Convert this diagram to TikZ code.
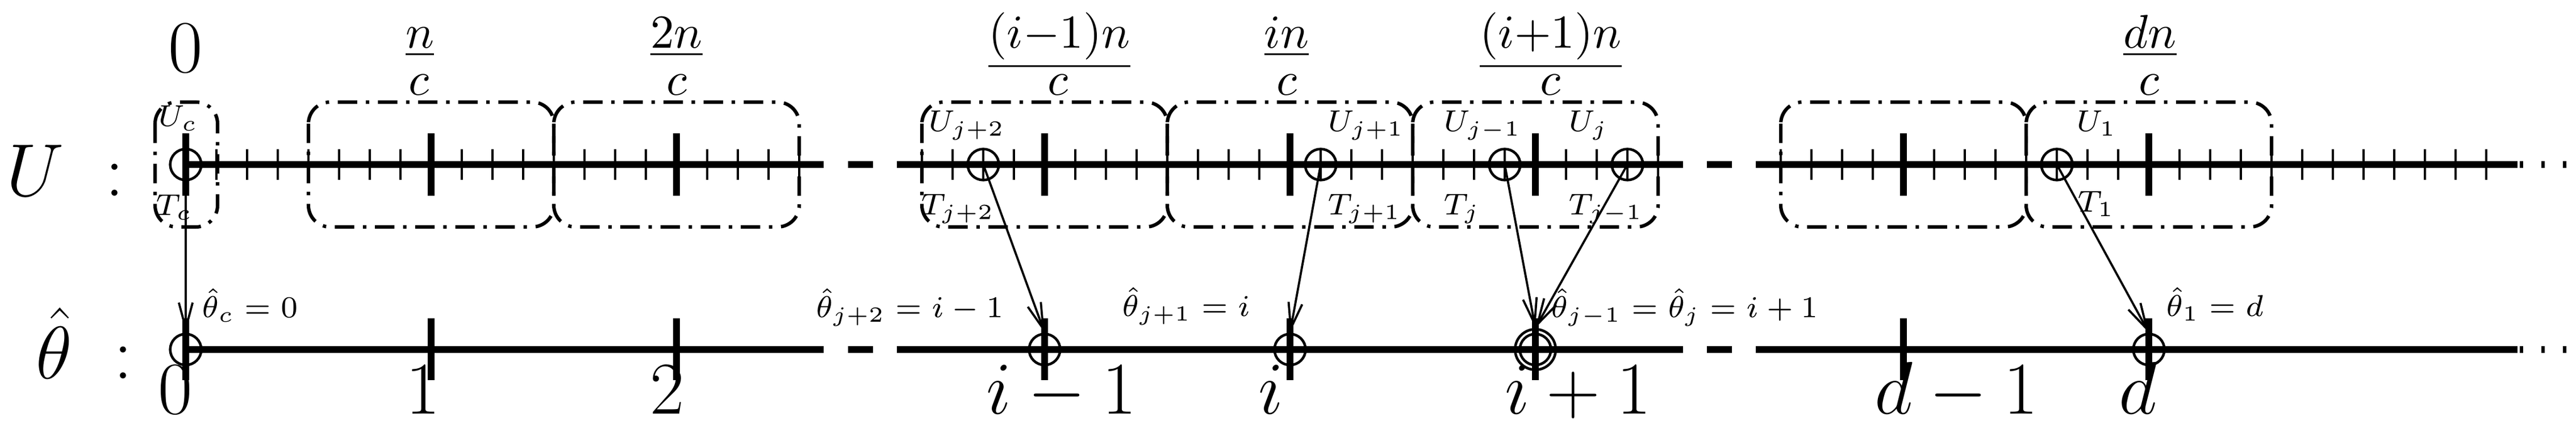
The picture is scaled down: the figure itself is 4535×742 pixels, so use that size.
\documentclass[tikz,border=0pt]{standalone}
\usetikzlibrary{arrows.meta}
\begin{document}
\begin{tikzpicture}[x=0.0046296cm,y=-0.0046296cm,
 axis/.style={line width=1.6pt},
 major/.style={line width=1.6pt},
 minor/.style={line width=0.5pt},
 grp/.style={line width=0.8pt, rounded corners=5pt, dash pattern=on 4.5pt off 2pt on 0.8pt off 2pt},
 circ/.style={circle,draw,line width=0.6pt,minimum size=7.2pt,inner sep=0pt},
 arr/.style={line width=0.5pt,-{Straight Barb[length=6pt,width=3.2pt]}},
 small/.style={font=\fontsize{7}{8}\selectfont, inner sep=0pt, anchor=base west},
 big/.style={font=\fontsize{17.5}{20}\selectfont, inner sep=0pt, anchor=base west},
 huge/.style={font=\fontsize{19}{22}\selectfont, inner sep=0pt, anchor=base west},
 num/.style={font=\fontsize{11}{13}\selectfont, inner sep=0pt, anchor=base}]
\useasboundingbox (0,0) rectangle (4535,742);
% axes
\foreach \y in {290,616}{
  \draw[axis] (327,\y) -- (1450,\y);
  \draw[axis] (1493,\y) -- (1537,\y);
  \draw[axis] (1579,\y) -- (2963,\y);
  \draw[axis] (3005,\y) -- (3049,\y);
  \draw[axis] (3091,\y) -- (4432,\y);
  \foreach \d in {4436,4474,4512} \draw[axis] (\d,\y) -- (\d+6,\y);
}
% minor ticks
\foreach \k in {1,...,20} \draw[minor] ({327+54*\k},263) -- ({327+54*\k},317);
\foreach \k in {24,...,48} \draw[minor] ({327+54*\k},263) -- ({327+54*\k},317);
\foreach \k in {52,...,75} \draw[minor] ({327+54*\k},263) -- ({327+54*\k},317);
% major ticks
\foreach \x in {327,759,1191,1839,2271,2703,3351,3783}{
  \draw[major] (\x,235) -- (\x,345);
  \draw[major] (\x,561) -- (\x,670);
}
% groups
\draw[grp] (273,180) rectangle (383,400);
\foreach \a/\b in {543/975,975/1407,1623/2055,2055/2487,2487/2919,3135/3567,3567/3999}
  \draw[grp] (\a,180) rectangle (\b,400);
% circles
\node[circ] (uc) at (327,290) {};
\node[circ] (uj2) at (1731,290) {};
\node[circ] (uj1) at (2325,290) {};
\node[circ] (ujm) at (2649,290) {};
\node[circ] (uj) at (2865,290) {};
\node[circ] (u1) at (3621,290) {};
\node[circ] (t0) at (327,616) {};
\node[circ] (t1) at (1839,616) {};
\node[circ] (t2) at (2271,616) {};
\node[circ] (t3) at (2703,616) {};
\node[circ,minimum size=9.4pt] (t3o) at (2703,616) {};
\node[circ] (t4) at (3783,616) {};
% arrows
\draw[arr] (uc.center) -- (t0.north);
\draw[arr] (uj2.center) -- (t1.north);
\draw[arr] (uj1.center) -- (t2.north);
\draw[arr] (ujm.center) -- (t3o.north);
\draw[arr] (uj.center) -- (t3o.north);
\draw[arr] (u1.center) -- (t4.north);
% top labels
\node[font=\fontsize{16}{18}\selectfont, inner sep=0pt, anchor=base] (z0) at (300+27,128) {$0$};
\node[num] (n1) at (739,85) {$\underline{n}$};
\node[num] (c1) at (737,168) {$c$};
\node[num] (n2) at (1191,85) {$\underline{2n}$};
\node[num] (c2) at (1191,168) {$c$};
\node[num] (n3) at (1865,85) {$\underline{(i{-}1)n}$};
\node[num] (c3) at (1862,168) {$c$};
\node[num] (n4) at (2265,85) {$\underline{in}$};
\node[num] (c4) at (2265,168) {$c$};
\node[num] (n5) at (2730,85) {$\underline{(i{+}1)n}$};
\node[num] (c5) at (2729,168) {$c$};
\node[num] (n6) at (3785,85) {$\underline{dn}$};
\node[num] (c6) at (3783,168) {$c$};
% axis names
\node[huge] (lu) at (10,346) {$U\;:$};
\node[huge] (lt) at (62,668) {$\hat\theta\;:$};
% bottom numbers
\node[big] (b0) at (277,730) {$0$};
\node[big] (b1) at (713,730) {$1$};
\node[big] (b2) at (1143,730) {$2$};
\node[big] (b3) at (1735,730) {$i-1$};
\node[big] (b4) at (2214,730) {$i$};
\node[big] (b5) at (2648,730) {$i+1$};
\node[big] (b6) at (3299,730) {$d-1$};
\node[big] (b7) at (3729,730) {$d$};
% small labels
\node[small] (luc) at (277,223) {$U_c$};
\node[small] (ltc) at (273,380) {$T_c$};
\node[small] (luj2) at (1633,232) {$U_{j+2}$};
\node[small] (ltj2) at (1620,379) {$T_{j+2}$};
\node[small] (luj1) at (2336,232) {$U_{j+1}$};
\node[small] (ltj1) at (2336,379) {$T_{j+1}$};
\node[small] (lujm) at (2540,232) {$U_{j-1}$};
\node[small] (luj) at (2760,232) {$U_j$};
\node[small] (ltj) at (2540,379) {$T_j$};
\node[small] (ltjm) at (2760,379) {$T_{j-1}$};
\node[small] (lu1) at (3654,232) {$U_1$};
\node[small] (lt1) at (3656,374) {$T_1$};
\node[small] (h0) at (354,560) {$\hat\theta_c=0$};
\node[small] (h1) at (1435,560) {$\hat\theta_{j+2}=i-1$};
\node[small] (h2) at (1974,558) {$\hat\theta_{j+1}=i$};
\node[small] (h3) at (2729,560) {$\hat\theta_{j-1}=\hat\theta_j=i+1$};
\node[small] (h4) at (3812,558) {$\hat\theta_1=d$};
\end{tikzpicture}
\end{document}
